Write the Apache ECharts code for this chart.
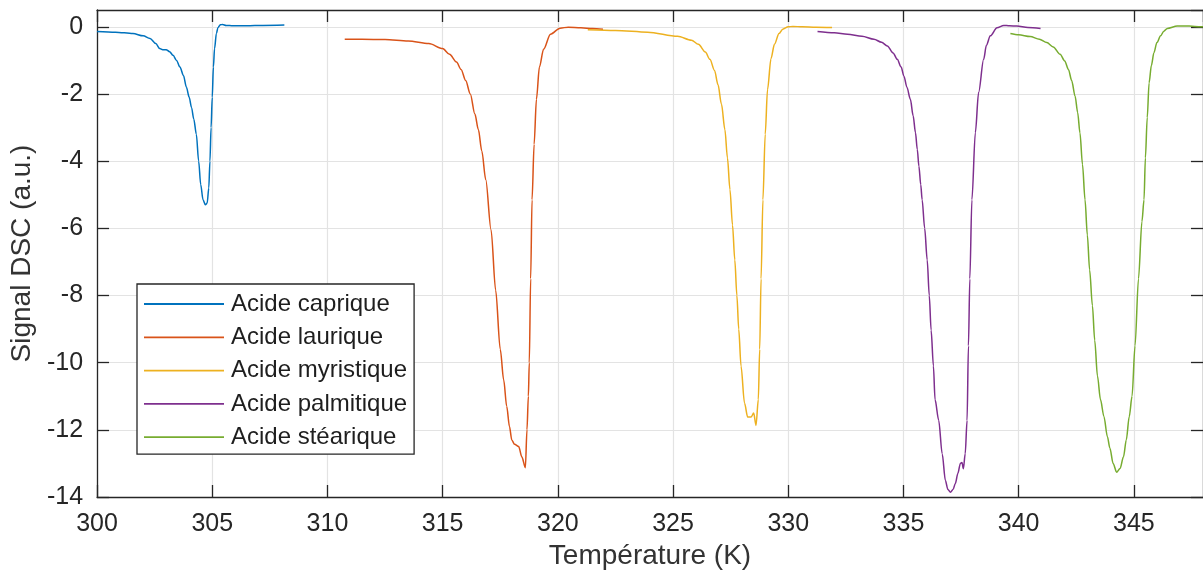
<!DOCTYPE html>
<html>
<head>
<meta charset="utf-8">
<script src="https://cdn.jsdelivr.net/npm/echarts@6/dist/echarts.min.js"></script>
<style>
html,body{margin:0;padding:0;background:#fff;}
#chart{width:1203px;height:577px;}
</style>
</head>
<body>
<div id="chart"></div>
<script>
// ---- data ----
const seriesNames = ['Acide caprique', 'Acide laurique', 'Acide myristique', 'Acide palmitique', 'Acide stéarique'];
const seriesColors = ['#0072BD', '#D95319', '#EDB120', '#7E2F8E', '#77AC30'];

const capriqueT = [300.0, 300.8, 301.56, 302.0, 302.3, 302.55, 302.72, 302.85, 303.0, 303.15, 303.3, 303.45, 303.6, 303.75, 303.88, 304.0, 304.1, 304.2, 304.31, 304.41, 304.5, 304.6, 304.7, 304.78, 304.85, 304.9, 304.95, 305.0, 305.05, 305.1, 305.18, 305.25, 305.35, 305.45, 305.6, 305.9, 306.5, 307.2, 308.13];
const capriqueV = [-0.14, -0.16, -0.2, -0.27, -0.35, -0.5, -0.65, -0.68, -0.68, -0.74, -0.85, -1.0, -1.2, -1.45, -1.8, -2.1, -2.4, -2.75, -3.2, -4.0, -4.7, -5.15, -5.3, -5.25, -4.8, -4.0, -3.0, -2.1, -1.2, -0.65, -0.2, -0.02, 0.06, 0.07, 0.04, 0.03, 0.03, 0.04, 0.05];

const lauriqueT = [310.75, 311.5, 312.5, 313.5, 314.4, 315.0, 315.3, 315.6, 315.8, 316.0, 316.2, 316.4, 316.55, 316.7, 316.87, 317.1, 317.3, 317.5, 317.65, 317.78, 317.9, 318.0, 318.12, 318.3, 318.44, 318.59, 318.66, 318.72, 318.76, 318.82, 318.88, 318.97, 319.07, 319.2, 319.38, 319.68, 320.1, 320.45, 321.0, 321.5, 321.96];
const lauriqueV = [-0.37, -0.37, -0.38, -0.42, -0.5, -0.65, -0.82, -1.05, -1.27, -1.6, -2.0, -2.6, -3.06, -3.7, -4.55, -6.04, -7.84, -9.6, -10.52, -11.3, -11.9, -12.3, -12.43, -12.5, -12.81, -13.13, -12.0, -11.0, -10.0, -7.5, -5.15, -3.5, -2.16, -1.2, -0.67, -0.22, -0.04, -0.01, -0.03, -0.05, -0.07];

const myristiqueT = [321.3, 322.5, 323.9, 325.2, 325.8, 326.1, 326.4, 326.6, 326.8, 326.95, 327.1, 327.25, 327.36, 327.47, 327.58, 327.68, 327.77, 327.85, 327.95, 328.1, 328.24, 328.39, 328.5, 328.6, 328.7, 328.76, 328.82, 328.9, 329.0, 329.1, 329.25, 329.4, 329.6, 329.76, 330.0, 330.2, 330.6, 331.2, 331.9];
const myristiqueV = [-0.09, -0.11, -0.16, -0.28, -0.4, -0.52, -0.75, -0.97, -1.3, -1.72, -2.3, -3.06, -3.9, -4.85, -5.9, -6.94, -8.0, -9.0, -10.1, -11.2, -11.62, -11.62, -11.5, -11.87, -11.1, -9.6, -7.5, -5.15, -3.2, -1.87, -0.95, -0.52, -0.2, -0.07, 0.0, 0.01, 0.0, -0.01, -0.02];

const palmitiqueT = [331.27, 332.0, 332.57, 333.2, 333.72, 334.05, 334.3, 334.55, 334.73, 334.9, 335.02, 335.15, 335.3, 335.42, 335.52, 335.6, 335.67, 335.75, 335.81, 335.92, 336.03, 336.12, 336.2, 336.3, 336.37, 336.53, 336.68, 336.82, 336.93, 337.04, 337.15, 337.25, 337.36, 337.47, 337.54, 337.6, 337.68, 337.76, 337.82, 337.88, 337.97, 338.12, 338.26, 338.48, 338.6, 338.77, 339.06, 339.35, 339.6, 339.92, 340.4, 340.95];
const palmitiqueV = [-0.14, -0.18, -0.22, -0.28, -0.37, -0.46, -0.57, -0.78, -0.97, -1.2, -1.47, -1.8, -2.16, -2.65, -3.15, -3.65, -4.15, -4.7, -5.15, -6.0, -6.94, -8.0, -9.03, -10.1, -11.1, -11.72, -12.71, -13.51, -13.78, -13.86, -13.78, -13.6, -13.3, -13.0, -12.97, -13.16, -12.71, -11.72, -9.5, -7.5, -5.15, -3.15, -1.96, -0.97, -0.55, -0.27, -0.03, 0.04, 0.03, 0.02, -0.02, -0.05];

const steariqueT = [339.64, 340.0, 340.5, 340.9, 341.22, 341.5, 341.8, 342.0, 342.16, 342.3, 342.45, 342.56, 342.66, 342.77, 342.88, 342.98, 343.08, 343.2, 343.3, 343.42, 343.55, 343.7, 343.85, 343.96, 344.1, 344.25, 344.4, 344.55, 344.67, 344.8, 344.92, 345.05, 345.2, 345.35, 345.44, 345.5, 345.58, 345.66, 345.76, 345.87, 346.0, 346.16, 346.3, 346.45, 346.88, 347.4, 347.9, 348.5];
const steariqueV = [-0.2, -0.24, -0.29, -0.37, -0.47, -0.6, -0.82, -1.02, -1.27, -1.6, -2.07, -2.55, -3.16, -4.1, -5.15, -6.2, -7.24, -8.3, -9.33, -10.4, -11.1, -11.6, -12.2, -12.55, -13.0, -13.26, -13.15, -12.8, -12.3, -11.6, -11.0, -9.5, -7.5, -5.8, -5.15, -3.9, -2.7, -1.67, -1.15, -0.77, -0.47, -0.27, -0.13, -0.05, 0.02, 0.02, 0.0, 0.0];

const xTickLabels = [300, 305, 310, 315, 320, 325, 330, 335, 340, 345];
const yTickLabels = [0, -2, -4, -6, -8, -10, -12, -14];

const allT = [capriqueT, lauriqueT, myristiqueT, palmitiqueT, steariqueT];
const allV = [capriqueV, lauriqueV, myristiqueV, palmitiqueV, steariqueV];

// ---- chart ----
const FONT = '"Liberation Sans", Arial, Helvetica, sans-serif';
const AX = '#262626';
const chart = echarts.init(document.getElementById('chart'), null, {renderer: 'canvas'});

const series = seriesNames.map((name, i) => ({
  name: name,
  type: 'line',
  xAxisIndex: 0,
  yAxisIndex: 0,
  data: allT[i].map((t, k) => [t, allV[i][k]]),
  symbol: 'none',
  showSymbol: false,
  smooth: 0.3,
  smoothMonotone: 'x',
  clip: true,
  color: seriesColors[i],
  lineStyle: {width: 1.5, color: seriesColors[i]},
  z: 3
}));

const xMin = 300, xMax = 348, yMin = -14, yMax = 0.5;
const LINE_ICON = 'path://M0,0H80V1.8H0Z';

chart.setOption({
  animation: false,
  backgroundColor: '#fff',
  grid: {left: 97, top: 10, width: 1109, bottom: 80, containLabel: false},
  legend: {
    orient: 'vertical',
    left: 137, top: 284,
    padding: [7, 7, 4, 7],
    itemWidth: 80, itemHeight: 26, itemGap: 7.3,
    icon: LINE_ICON,
    symbolKeepAspect: true,
    backgroundColor: '#fff',
    borderColor: AX, borderWidth: 1.3,
    data: seriesNames.map(n => ({name: n, icon: LINE_ICON})),
    textStyle: {fontSize: 24, fontFamily: FONT, color: '#1e1e1e', lineHeight: 26, width: 176, padding: [0, 0, 0, 2]},
    z: 10
  },
  xAxis: [{
    type: 'value', position: 'bottom', min: xMin, max: xMax, interval: 5,
    name: 'Température (K)', nameLocation: 'middle', nameGap: 44,
    nameTextStyle: {fontSize: 28, fontFamily: FONT, color: '#333'},
    axisLine: {show: true, onZero: false, lineStyle: {color: AX, width: 1.3}},
    axisTick: {show: true, inside: true, length: 12, lineStyle: {color: AX, width: 1.3}},
    axisLabel: {show: true, margin: 15, fontSize: 25, fontFamily: FONT, color: AX,
      showMaxLabel: false,
      formatter: v => xTickLabels.indexOf(v) >= 0 ? String(v) : ''},
    splitLine: {show: true, lineStyle: {color: '#e3e3e3', width: 1.2}}
  }, {
    type: 'value', position: 'top', min: xMin, max: xMax, interval: 5,
    axisLine: {show: true, onZero: false, lineStyle: {color: AX, width: 1.3}},
    axisTick: {show: true, inside: true, length: 12, lineStyle: {color: AX, width: 1.3}},
    axisLabel: {show: false},
    splitLine: {show: false}
  }],
  yAxis: [{
    type: 'value', position: 'left', min: yMin, max: yMax, interval: 2,
    name: 'Signal DSC (a.u.)', nameLocation: 'middle', nameGap: 60, nameRotate: 90,
    nameTextStyle: {fontSize: 28, fontFamily: FONT, color: '#333'},
    axisLine: {show: true, onZero: false, lineStyle: {color: AX, width: 1.3}},
    axisTick: {show: true, inside: true, length: 12, lineStyle: {color: AX, width: 1.3}},
    axisLabel: {show: true, margin: 14, fontSize: 25, fontFamily: FONT, color: AX,
      showMaxLabel: false,
      formatter: v => yTickLabels.indexOf(v) >= 0 ? String(v) : ''},
    splitLine: {show: true, lineStyle: {color: '#e3e3e3', width: 1.2}}
  }, {
    type: 'value', position: 'right', min: yMin, max: yMax, interval: 2,
    axisLine: {show: true, onZero: false, lineStyle: {color: AX, width: 1.3}},
    axisTick: {show: true, inside: true, length: 12, lineStyle: {color: AX, width: 1.3}},
    axisLabel: {show: false},
    splitLine: {show: false}
  }],
  series: series
});
</script>
</body>
</html>
